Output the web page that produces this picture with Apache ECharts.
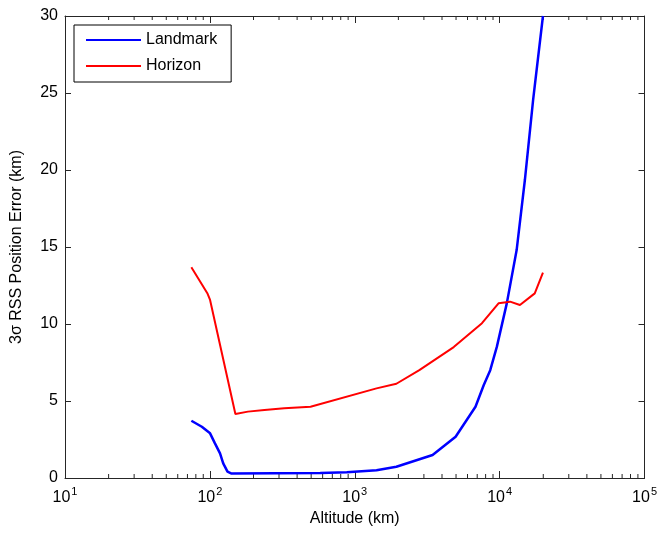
<!DOCTYPE html>
<html>
<head>
<meta charset="utf-8">
<script src="https://cdn.jsdelivr.net/npm/echarts@6/dist/echarts.min.js"></script>
<style>
html,body{margin:0;padding:0;background:#fff;}
#chart{width:660px;height:535px;}
</style>
</head>
<body>
<div id="chart"></div>
<script>
// ---- data ----
const landmarkAlt = [74.5, 88, 100.3, 108.4, 117.5, 123.6, 132.3, 140, 577, 881, 1413, 1937, 3444, 4966, 6810, 7770, 8610, 9570, 11200, 13100, 14930, 17020, 19900];
const landmarkErr = [3.72, 3.33, 2.90, 2.25, 1.60, 0.95, 0.41, 0.30, 0.32, 0.38, 0.50, 0.73, 1.49, 2.68, 4.63, 6.04, 7.0, 8.53, 11.34, 14.8, 19.35, 24.55, 30.0];
const horizonAlt = [74.5, 96, 100.3, 150, 183, 238, 326, 495, 1413, 1937, 2790, 4820, 7550, 9820, 11800, 13800, 17470, 19900];
const horizonErr = [13.68, 12.0, 11.56, 4.16, 4.31, 4.42, 4.53, 4.63, 5.82, 6.12, 7.0, 8.5, 10.05, 11.34, 11.45, 11.23, 11.99, 13.33];
const xMin = 10, xMax = 100000;
const yMin = 0, yMax = 30, yStep = 5;
const minorTickValues = [];
for (let d = 10; d < xMax; d *= 10) {
  for (let k = 2; k <= 9; k++) minorTickValues.push(k * d);
}
const seriesNames = ['Landmark', 'Horizon'];

const FONT = 'Liberation Sans, Arial, Helvetica, sans-serif';
const AX = '#262626';
const chart = echarts.init(document.getElementById('chart'), null, {renderer: 'canvas'});

function zip(a, b) { return a.map((v, i) => [v, b[i]]); }

const option = {
  backgroundColor: '#fff',
  animation: false,
  textStyle: {fontFamily: FONT},
  grid: {left: 65, right: 9, top: 16, bottom: 57, containLabel: false},
  legend: {
    data: seriesNames,
    orient: 'vertical',
    left: 74, top: 25,
    backgroundColor: '#fff',
    borderColor: '#000', borderWidth: 1, borderRadius: 0,
    padding: [6, 14, 7, 11],
    itemWidth: 55, itemHeight: 14, itemGap: 8,
    itemStyle: {opacity: 0},
    textStyle: {fontFamily: FONT, fontSize: 16, color: '#000', lineHeight: 18}
  },
  xAxis: [{
    type: 'log', logBase: 10, min: xMin, max: xMax,
    name: 'Altitude (km)', nameLocation: 'middle', nameGap: 33,
    nameTextStyle: {fontFamily: FONT, fontSize: 16, color: '#000'},
    axisLine: {show: true, onZero: false, lineStyle: {color: AX, width: 1}},
    axisTick: {show: true, inside: true, length: 7, lineStyle: {color: AX}},
    splitLine: {show: false},
    axisLabel: {
      margin: 8,
      formatter: function (v) { return '{b|10}{s|' + Math.round(Math.log10(v)) + '}'; },
      rich: {
        b: {fontFamily: FONT, fontSize: 16, color: '#000', verticalAlign: 'bottom'},
        s: {fontFamily: FONT, fontSize: 11, color: '#000', verticalAlign: 'bottom', padding: [0, 0, 9, 1]}
      }
    }
  }, {
    type: 'log', logBase: 10, min: xMin, max: xMax, position: 'top',
    axisLine: {show: true, onZero: false, lineStyle: {color: AX, width: 1}},
    axisTick: {show: true, inside: true, length: 7, lineStyle: {color: AX}},
    axisLabel: {show: false}, splitLine: {show: false}
  }],
  yAxis: [{
    type: 'value', min: yMin, max: yMax, interval: yStep,
    name: '3σ RSS Position Error (km)', nameLocation: 'middle', nameGap: 40,
    nameTextStyle: {fontFamily: FONT, fontSize: 16, color: '#000'},
    axisLine: {show: true, onZero: false, lineStyle: {color: AX, width: 1}},
    axisTick: {show: true, inside: true, length: 6, lineStyle: {color: AX}},
    splitLine: {show: false},
    axisLabel: {margin: 7, fontFamily: FONT, fontSize: 16, color: '#000'}
  }, {
    type: 'value', min: yMin, max: yMax, interval: yStep, position: 'right',
    axisLine: {show: true, onZero: false, lineStyle: {color: AX, width: 1}},
    axisTick: {show: true, inside: true, length: 6, lineStyle: {color: AX}},
    axisLabel: {show: false}, splitLine: {show: false}
  }],
  series: [{
    name: 'Landmark', type: 'line', data: zip(landmarkAlt, landmarkErr),
    symbol: 'none', smooth: false, clip: true,
    lineStyle: {color: '#0000ff', width: 2.5}, itemStyle: {color: '#0000ff'}, z: 3
  }, {
    name: 'Horizon', type: 'line', data: zip(horizonAlt, horizonErr),
    symbol: 'none', smooth: false, clip: true,
    lineStyle: {color: '#ff0000', width: 2}, itemStyle: {color: '#ff0000'}, z: 3
  }, {
    name: 'minorTicks', type: 'custom', silent: true, z: 2,
    data: minorTickValues.map(v => [v, yMin]),
    renderItem: function (params, api) {
      const v = api.value(0);
      const b = api.coord([v, yMin]);
      const t = api.coord([v, yMax]);
      const st = {stroke: AX, lineWidth: 1};
      return {type: 'group', children: [
        {type: 'line', shape: {x1: b[0], y1: b[1], x2: b[0], y2: b[1] - 4}, style: st},
        {type: 'line', shape: {x1: t[0], y1: t[1], x2: t[0], y2: t[1] + 4}, style: st}
      ]};
    }
  }]
};
chart.setOption(option);
</script>
</body>
</html>
